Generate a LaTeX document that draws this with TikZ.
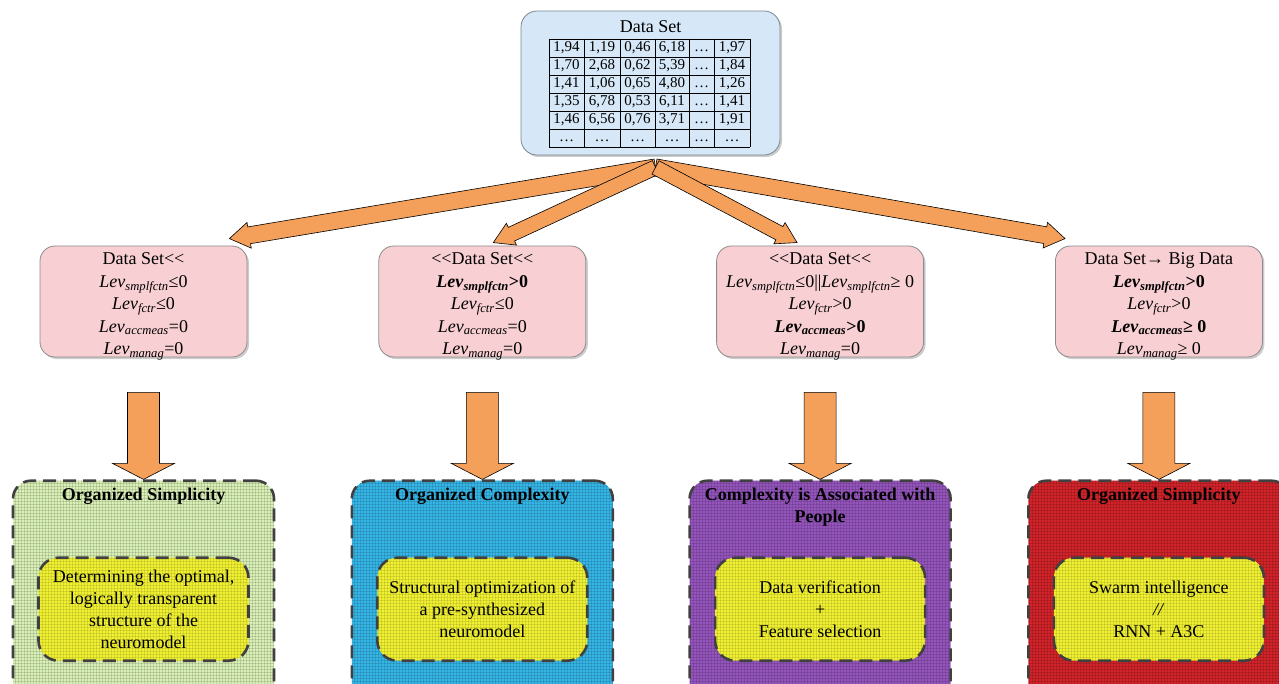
\documentclass[tikz,border=0pt]{standalone}
\usepackage{fontspec}
\setmainfont{Liberation Serif}
\usetikzlibrary{calc,positioning,shadows,patterns}

\definecolor{dsblue}{HTML}{D6E8F7}
\definecolor{dsborder}{HTML}{7A8794}
\definecolor{levpink}{HTML}{F8CFD2}
\definecolor{levborder}{HTML}{8C8C8C}
\definecolor{arroworange}{HTML}{F4A05A}
\definecolor{simpgreen}{HTML}{D8F0B6}
\definecolor{complcyan}{HTML}{35B4E6}
\definecolor{peoplepurple}{HTML}{9354BB}
\definecolor{bigred}{HTML}{D0232A}
\definecolor{taskyellow}{HTML}{F0F032}
\definecolor{dashgray}{HTML}{404040}

\newcommand{\levsub}[1]{\textit{Lev}\textsubscript{\textit{#1}}}
\newcommand{\fatarrow}[5]{%
  \coordinate (fa-h) at ($(#2)!#5!(#1)$);
  \draw[fat arrow] ($(#1)!#3!90:(#2)$) -- ($(fa-h)!#3!-90:(#1)$) -- ($(fa-h)!#4!-90:(#1)$) -- (#2)
    -- ($(fa-h)!#4!90:(#1)$) -- ($(fa-h)!#3!90:(#1)$) -- ($(#1)!#3!-90:(#2)$) -- cycle;
}

\begin{document}
\begin{tikzpicture}[x=1pt,y=-1pt,font=\fontsize{18}{22}\selectfont,
	data node/.style={draw=dsborder,line width=0.8pt,fill=dsblue,rounded corners=16pt,
		minimum width=259pt,minimum height=144pt,
		drop shadow={shadow xshift=2pt,shadow yshift=-2pt,fill=black!40,opacity=.5}},
	level node/.style={draw=levborder,line width=0.8pt,fill=levpink,rounded corners=15pt,
		minimum width=207pt,minimum height=111pt,inner sep=0pt,
		drop shadow={shadow xshift=2pt,shadow yshift=-2pt,fill=black!40,opacity=.5}},
	level text/.style={font=\fontsize{18}{22.5}\selectfont,align=center,inner sep=0pt},
	class node/.style={draw=dashgray,line width=2.6pt,dash pattern=on 13pt off 7pt,rounded corners=18pt,
		minimum width=261pt,minimum height=240pt,
		preaction={fill=#1},preaction={pattern=grid,pattern color=black,opacity=.12}},
	task node/.style={draw=dashgray,line width=2.6pt,dash pattern=on 13pt off 7pt,rounded corners=20pt,
		minimum width=210pt,minimum height=103pt,align=center,inner sep=0pt,
		preaction={fill=taskyellow},preaction={pattern=grid,pattern color=black,opacity=.1}},
	title node/.style={font=\fontsize{18}{22}\selectfont\bfseries,align=center,inner sep=2pt},
	table line/.style={line width=0.8pt,draw=black},
	cell/.style={font=\fontsize{15}{16}\selectfont,inner sep=0pt,text height=10.5pt,text depth=3pt},
	fat arrow/.style={fill=arroworange,draw=black,line width=0.6pt,line join=miter}]

	\useasboundingbox (0,0) rectangle (1279,684);
	\clip (0,0) rectangle (1279,684);

	\node[data node] (data) at (650.5,83) {};
	\node (dstitle) at ($(data.north)+(0,16)$) {Data Set};
	\foreach \x in {549,584,620,655,689,714,750}
		\draw[table line] (\x,39) -- (\x,147);
	\foreach \y in {39,57,...,147}
		\draw[table line] (549,\y) -- (750,\y);
	\foreach \ca/\cb/\cc/\cd/\cf [count=\r] in {1{,}94/1{,}19/0{,}46/6{,}18/1{,}97,
			1{,}70/2{,}68/0{,}62/5{,}39/1{,}84, 1{,}41/1{,}06/0{,}65/4{,}80/1{,}26,
			1{,}35/6{,}78/0{,}53/6{,}11/1{,}41, 1{,}46/6{,}56/0{,}76/3{,}71/1{,}91, …/…/…/…/…}
		\foreach \v/\x in {\ca/566.5,\cb/602,\cc/637.5,\cd/672,…/701.5,\cf/732}
			\node[cell] at (\x,{30+18*\r}) {\v};

	\node[level node] (lev1) at (143.5,301.5) {};
	\node[level node,right=131pt of lev1] (lev2) {};
	\node[level node,right=130pt of lev2] (lev3) {};
	\node[level node,right=131pt of lev3] (lev4) {};
	\node[level text] (lev1txt) at ($(lev1)+(0,5)$) {Data Set<\kern0pt<\\
		\levsub{smplfctn}≤0\\ \levsub{fctr}≤0\\ \levsub{accmeas}=0\\ \levsub{manag}=0};
	\node[level text] (lev2txt) at ($(lev2)+(0,5)$) {<\kern0pt<Data Set<\kern0pt<\\
		\textbf{\levsub{smplfctn}>0}\\ \levsub{fctr}≤0\\ \levsub{accmeas}=0\\ \levsub{manag}=0};
	\node[level text] (lev3txt) at ($(lev3)+(0,5)$) {<\kern0pt<Data Set<\kern0pt<\\
		\levsub{smplfctn}≤0||\levsub{smplfctn}≥ 0\\ \levsub{fctr}>0\\ \textbf{\levsub{accmeas}>0}\\ \levsub{manag}=0};
	\node[level text] (lev4txt) at ($(lev4)+(0,5)$) {Data Set→ Big Data\\
		\textbf{\levsub{smplfctn}>0}\\ \levsub{fctr}>0\\ \textbf{\levsub{accmeas}≥ 0}\\ \levsub{manag}≥ 0};

	\node[class node=simpgreen,below=122pt of lev1] (cls1) {};
	\node[class node=complcyan,below=122pt of lev2] (cls2) {};
	\node[class node=peoplepurple,below=122pt of lev3] (cls3) {};
	\node[class node=bigred,below=122pt of lev4] (cls4) {};

	\node[title node,below=6pt of cls1.north] (ttl1) {Organized Simplicity};
	\node[title node,below=6pt of cls2.north] (ttl2) {Organized Complexity};
	\node[title node,below=6pt of cls3.north] (ttl3) {Complexity is Associated with\\People};
	\node[title node,below=6pt of cls4.north] (ttl4) {Organized Simplicity};

	\node[task node,below=77pt of cls1.north] (task1) {Determining the optimal,\\logically transparent\\structure of the\\neuromodel};
	\node[task node,below=77pt of cls2.north] (task2) {Structural optimization of\\a pre-synthesized\\neuromodel};
	\node[task node,below=77pt of cls3.north] (task3) {Data verification\\+\\Feature selection};
	\node[task node,below=77pt of cls4.north] (task4) {Swarm intelligence\\\textit{//}\\RNN + A3C};

	\foreach \i in {1,...,4}{
		\coordinate (drop\i) at ($(lev\i.south)+(0,35)$);
		\fatarrow{drop\i}{cls\i.north}{16pt}{31pt}{16pt}
	}

	\coordinate (apex) at ($(data.south)+(5,12)$);
	\coordinate (tip1) at ($(lev1.north east)+(-18,-7)$);
	\coordinate (tip2) at ($(lev2.north)+(11,-3)$);
	\coordinate (tip3) at ($(lev3.north)+(-23,-3)$);
	\coordinate (tip4) at ($(lev4.north west)+(10,-7)$);
	\fatarrow{apex}{tip1}{8.5pt}{13pt}{20pt}
	\fatarrow{apex}{tip4}{8.5pt}{13pt}{20pt}
	\fatarrow{apex}{tip2}{7.5pt}{12pt}{20pt}
	\fatarrow{apex}{tip3}{7.5pt}{12pt}{20pt}
\end{tikzpicture}
\end{document}
